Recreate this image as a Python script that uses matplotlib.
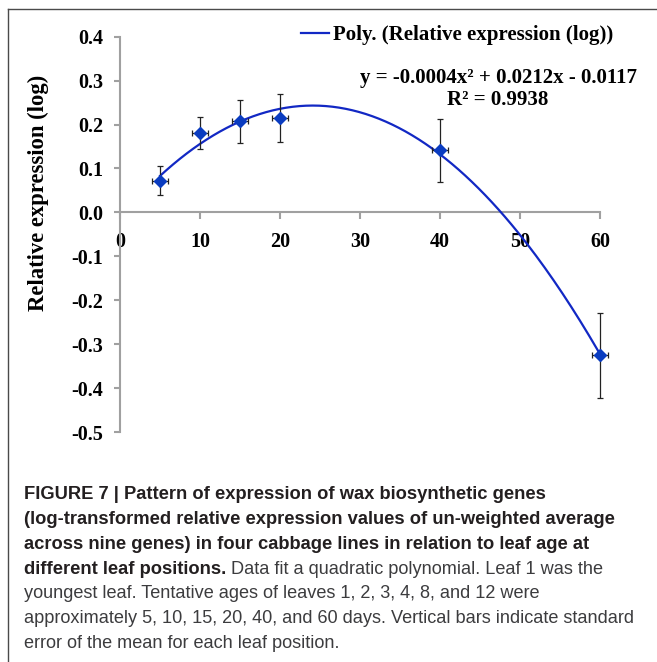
import numpy as np
import matplotlib
matplotlib.use('Agg')
from matplotlib import pyplot as plt
from matplotlib.lines import Line2D
from matplotlib.ticker import FormatStrFormatter

plt.rcParams['axes.unicode_minus'] = False

# leaf age (days) and log relative expression
ages = [5, 10, 15, 20, 40, 60]
expr = [0.072, 0.181, 0.207, 0.215, 0.141, -0.325]
se = [0.033, 0.037, 0.050, 0.055, 0.072, 0.097]
age_err = [1, 1, 1, 1, 1, 1]

x_ticks = [0, 10, 20, 30, 40, 50, 60]
y_ticks = [0.4, 0.3, 0.2, 0.1, 0.0, -0.1, -0.2, -0.3, -0.4, -0.5]

eq_text = 'y = -0.0004x\u00b2 + 0.0212x - 0.0117'
r2_text = 'R\u00b2 = 0.9938'
legend_text = 'Poly. (Relative expression (log))'

caption_bold = [
    'FIGURE 7 | Pattern of expression of wax biosynthetic genes',
    '(log-transformed relative expression values of un-weighted average',
    'across nine genes) in four cabbage lines in relation to leaf age at',
    'different leaf positions.',
]
caption_rest = [
    ' Data fit a quadratic polynomial. Leaf 1 was the',
    'youngest leaf. Tentative ages of leaves 1, 2, 3, 4, 8, and 12 were',
    'approximately 5, 10, 15, 20, 40, and 60 days. Vertical bars indicate standard',
    'error of the mean for each leaf position.',
]

W, H = 657, 662
fig = plt.figure(figsize=(W / 100, H / 100), dpi=100)
ax = fig.add_axes([120 / W, 1 - 432 / H, 480 / W, (432 - 36.7) / H])

serif = 'Liberation Serif'
sans = 'Liberation Sans'
spine_col = '#a0a0a0'

coef = np.polyfit(ages, expr, 2)
xs = np.linspace(ages[0], ages[-1], 200)
curve, = ax.plot(xs, np.polyval(coef, xs), color='#1228c4', lw=1.6, zorder=3,
                 label=legend_text, clip_on=False)

eb = ax.errorbar(ages, expr, yerr=se, xerr=age_err, fmt='none', ecolor='#222222',
                 elinewidth=0.9, capsize=2.3, capthick=0.9, zorder=4)
for art in eb.lines[1] + eb.lines[2]:
    art.set_clip_on(False)
ax.plot(ages, expr, 'D', color='#0a3cc0', ms=6, mec='#0a3cc0', zorder=5,
        clip_on=False)

ax.set_xlim(0, 60)
ax.set_ylim(-0.5, 0.4)
ax.set_xticks(x_ticks)
ax.set_yticks(y_ticks)
ax.yaxis.set_major_formatter(FormatStrFormatter('%.1f'))

for s in ['top', 'right']:
    ax.spines[s].set_visible(False)
ax.spines['bottom'].set_position(('data', 0))
for s in ['left', 'bottom']:
    ax.spines[s].set_color(spine_col)
    ax.spines[s].set_linewidth(1.5)
ax.tick_params(axis='both', direction='out', color=spine_col, width=1.5)
ax.tick_params(axis='x', length=5, pad=9)
ax.tick_params(axis='y', length=4, pad=8)
for lab in ax.get_xticklabels() + ax.get_yticklabels():
    lab.set_fontfamily(serif)
    lab.set_fontweight('bold')
    lab.set_fontsize(14.5)

fig.text(38 / W, 1 - 193 / H, 'Relative expression (log)', rotation=90,
         ha='center', va='center', family=serif, weight='bold', fontsize=16.3)

fig.legend(handles=[curve], loc='center left', frameon=False,
           bbox_to_anchor=(301 / W, 1 - 35 / H), bbox_transform=fig.transFigure,
           borderpad=0, borderaxespad=0, handlelength=1.35, handletextpad=0.2,
           prop={'family': serif, 'weight': 'bold', 'size': 15})

fig.text(498 / W, 1 - 83 / H, eq_text, ha='center', va='baseline',
         family=serif, weight='bold', fontsize=15)
fig.text(498 / W, 1 - 105 / H, r2_text, ha='center', va='baseline',
         family=serif, weight='bold', fontsize=15)

# caption
base = [499, 524, 549, 574, 598.5, 623, 648]
bold_size = 13.25
reg_size = 13.1
bold_col = '#231f20'
reg_col = '#3c3c3e'
last_bold = None
for i, line in enumerate(caption_bold):
    last_bold = fig.text(24 / W, 1 - base[i] / H, line, ha='left', va='baseline',
                         family=sans, weight='bold', fontsize=bold_size, color=bold_col)
fig.canvas.draw()
bb = last_bold.get_window_extent()
fig.text(bb.x1 / W, 1 - base[3] / H, caption_rest[0], ha='left', va='baseline',
         family=sans, fontsize=reg_size, color=reg_col)
for j, line in enumerate(caption_rest[1:]):
    fig.text(24 / W, 1 - base[4 + j] / H, line, ha='left', va='baseline',
             family=sans, fontsize=reg_size, color=reg_col)

# panel frame (left and top edges)
fig.add_artist(Line2D([7.5 / W, 7.5 / W], [0, 1 - 9 / H], color='#4a4a4a', lw=1.0))
fig.add_artist(Line2D([7.5 / W, 1], [1 - 9 / H, 1 - 9 / H], color='#4a4a4a', lw=1.0))

fig.savefig('out.png', dpi=100)
